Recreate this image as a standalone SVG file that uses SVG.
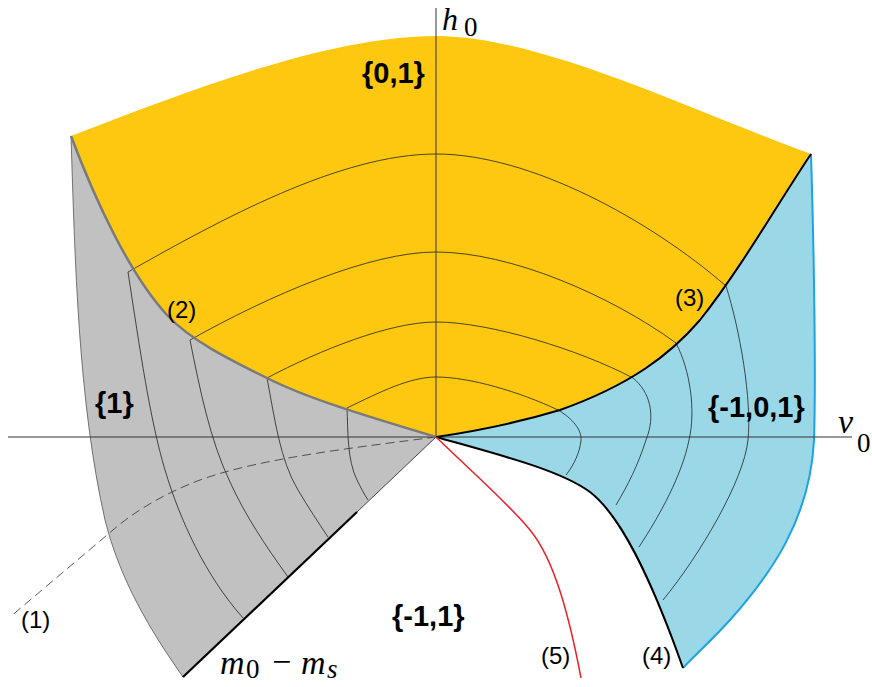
<svg xmlns="http://www.w3.org/2000/svg" width="872" height="687" viewBox="0 0 872 687">
<style>
.lvl{fill:none;stroke:#222;stroke-width:0.8}
.ax{fill:none;stroke:#333;stroke-width:1}
.reg{font-family:"Liberation Sans",Arial,sans-serif;font-weight:bold;font-size:29px;fill:#000}
.num{font-family:"Liberation Sans",Arial,sans-serif;font-size:24px;fill:#000}
.math{font-family:"Liberation Serif","Times New Roman",serif;font-style:italic;font-size:34px;fill:#000}
.sub{font-family:"Liberation Serif","Times New Roman",serif;font-style:normal;font-size:27px;fill:#000}
</style>
<rect width="872" height="687" fill="#fff"/>
<g id="region-01">
<path d="M71,136 C190,90 330,36 436,36 C540,36 690,110 811,154 C780,200 740,270 700,320 C670,355 630,385 560,410 C510,425 470,432 436,437 C380,420 310,400 267,378 C230,360 190,340 167,315 C130,275 95,200 71,136 Z" fill="#FDC80F"/>
</g>
<g id="region-1">
<path d="M436,437 C380,420 310,400 267,378 C230,360 190,340 167,315 C130,275 95,200 71,136 C75,260 78,400 105,520 C120,580 150,630 183,677 Z" fill="#C1C1C1"/>
<path d="M71,136 C75,260 78,400 105,520 C120,580 150,630 183,677" fill="none" stroke="#555" stroke-width="0.8"/>
</g>
<g id="region-101">
<path d="M811,154 C814,250 816,380 814,440 C810,520 770,575 730,620 C710,642 695,655 683,668 C650,575 620,515 590,492 C560,470 500,455 436,437 C470,432 510,425 560,410 C630,385 670,355 700,320 C740,270 780,200 811,154 Z" fill="#9AD8E8"/>
<path d="M811,154 C814,250 816,380 814,440 C810,520 770,575 730,620 C710,642 695,655 683,668" fill="none" stroke="#1BA3E6" stroke-width="2"/>
</g>
<g id="connectors">
<path class="lvl" d="M128,272 C220,220 340,154 436,154 C530,154 650,220 726,286 C740,330 752,400 748,440 C744,480 700,555 663,600"/>
<path class="lvl" d="M190,340 C270,295 370,252 436,252 C510,252 610,295 676,343 C690,370 696,410 689,440 C682,475 660,515 639,547"/>
<path class="lvl" d="M267,378 C320,350 390,322 436,322 C490,322 580,350 633,378 C650,392 656,415 646,440 C638,465 628,485 616,505"/>
<path class="lvl" d="M347,408 C380,392 410,377 436,377 C470,377 520,392 558,410 C572,418 582,430 581,440 C580,452 574,465 566,475"/>
<path class="lvl" d="M128,272 C140,350 150,420 165,470 C180,520 205,575 243,618"/>
<path class="lvl" d="M190,340 C200,390 210,440 230,482 C245,515 265,545 288,577"/>
<path class="lvl" d="M267,378 C275,420 280,460 298,490 C308,507 318,522 328,537"/>
<path class="lvl" d="M347,408 C348,430 347,460 357,480 C361,488 364,494 368,500"/>
<path d="M436,437 C360,447 260,458 200,480 C160,495 130,515 113,530 L10,617" fill="none" stroke="#333" stroke-width="0.8" stroke-dasharray="9,5"/>
<path class="ax" d="M436,8 V437 M8,437 H852"/>
<path d="M436,437 C380,420 310,400 267,378 C230,360 190,340 167,315 C130,275 95,200 71,136" fill="none" stroke="#7a7a7a" stroke-width="2.5"/>
<path d="M436,437 C470,432 510,425 560,410 C630,385 670,355 700,320 C740,270 780,200 811,154" fill="none" stroke="#000" stroke-width="2"/>
<path d="M436,437 C500,455 560,470 590,492 C620,515 650,575 683,668" fill="none" stroke="#000" stroke-width="2"/>
<path d="M183,677 L357,512" fill="none" stroke="#000" stroke-width="2.2"/>
<path d="M357,512 L436,437" fill="none" stroke="#444" stroke-width="1"/>
<path d="M436,437 C470,470 510,505 530,530 C555,560 570,620 581,678" fill="none" stroke="#E8202A" stroke-width="1.5"/>
</g>
<g id="labels">
<text class="reg" x="362" y="83">{0,1}</text>
<text class="reg" x="95" y="413">{1}</text>
<text class="reg" x="708" y="417">{-1,0,1}</text>
<text class="reg" x="392" y="626">{-1,1}</text>
<text class="num" x="21" y="628">(1)</text>
<text class="num" x="167" y="318">(2)</text>
<text class="num" x="675" y="306">(3)</text>
<text class="num" x="642" y="664">(4)</text>
<text class="num" x="541" y="664">(5)</text>
<text class="math" x="442" y="30" style="font-size:32px">h</text><text class="sub" x="464" y="36">0</text>
<text class="math" x="838" y="433">v</text><text class="sub" x="857" y="452">0</text>
<text class="math" x="220" y="674">m</text><text class="sub" x="246" y="678">0</text>
<text class="math" x="272" y="673" style="font-style:normal">−</text>
<text class="math" x="301" y="674">m</text><text class="sub" x="327" y="678" style="font-style:italic">s</text>
</g>
</svg>
